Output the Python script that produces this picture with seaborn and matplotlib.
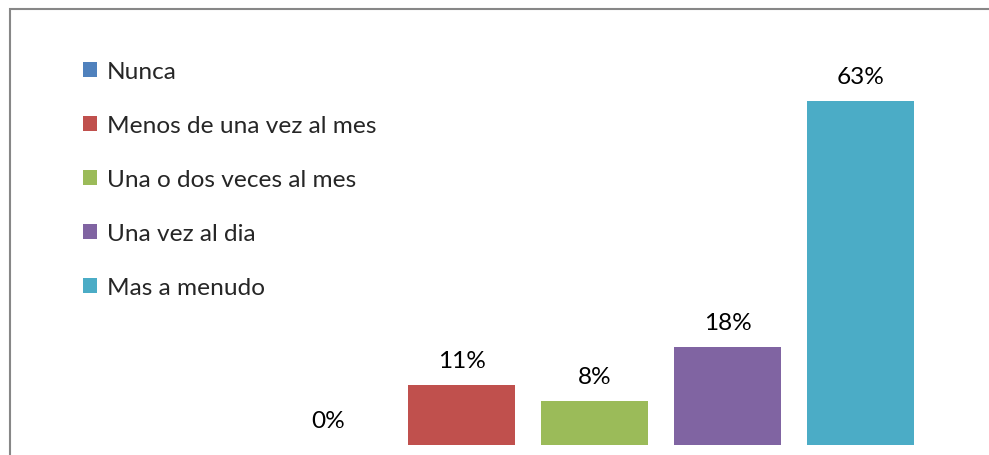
import matplotlib
matplotlib.use("Agg")
import matplotlib.pyplot as plt
from matplotlib.patches import Rectangle
import seaborn as sns
import pandas as pd

categories = ["Nunca", "Menos de una vez al mes", "Una o dos veces al mes",
              "Una vez al dia", "Mas a menudo"]
values = [0, 11, 8, 18, 63]
colors = ["#4F81BD", "#C0504D", "#9BBB59", "#8064A2", "#4BACC6"]

sns.set_theme(style="white")
plt.rcParams["font.family"] = ["Lato", "DejaVu Sans"]

W, H = 989, 456
fig = plt.figure(figsize=(W / 100, H / 100), dpi=100)
fig.patch.set_facecolor("white")

# axes placed in pixel units: plot area from x=262 to 927, baseline at y=446
ax = fig.add_axes([262 / W, 10 / H, 665 / W, 344 / H])

df = pd.DataFrame({"cat": categories, "val": values})
sns.barplot(data=df, x="cat", y="val", hue="cat", palette=colors,
            width=107 / 133, order=categories, hue_order=categories,
            legend=True, ax=ax, saturation=1, linewidth=0)

ax.set_xlim(-0.5, 4.5)
ax.set_ylim(0, 63)
ax.axis("off")

FS = 17.6
for cont in ax.containers:
    ax.bar_label(cont, fmt="%d%%", padding=10, fontsize=FS, color="black")

handles, labels = ax.get_legend_handles_labels()
ax.get_legend().remove()
fig.legend(handles, labels, loc="upper left",
           bbox_to_anchor=(83 / W, 1 - 62 / H), frameon=False,
           fontsize=FS, handlelength=0.58, handleheight=0.58,
           handletextpad=0.4, labelspacing=1.35, borderpad=0,
           borderaxespad=0)

# outer chart frame
fig.add_artist(Rectangle((9.5 / W, -20 / H), 1200 / W, (456 - 9.5 + 20) / H,
                         transform=fig.transFigure, fill=False,
                         edgecolor="#878787", linewidth=1.5))

fig.savefig("out.png", dpi=100)
